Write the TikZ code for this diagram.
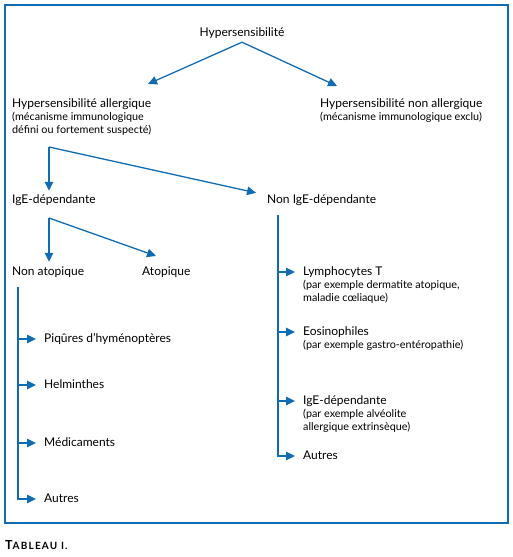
\documentclass[tikz,border=0pt]{standalone}
\usepackage{fontspec}
\setmainfont{Lato}
\usetikzlibrary{arrows.meta}
\definecolor{bleu}{RGB}{16,108,178}
\begin{document}
\begin{tikzpicture}[x=1pt, y=-1pt,
    fleche/.style={bleu, line width=1.3pt, -{Triangle[length=9pt,width=8.5pt]}},
    branche/.style={fleche, shorten >=8pt},
    titre/.style={inner sep=0pt, anchor=west, text height=9pt, text depth=3pt, font=\fontsize{12}{13}\selectfont},
    detail/.style={inner sep=0pt, anchor=north west, align=left, font=\fontsize{10.8}{13}\selectfont}]
    \useasboundingbox (0,0) rectangle (513,557);

    % Cadre et legende
    \draw[bleu, line width=1.5pt] (5,5) rectangle (508,523);
    \node[inner sep=0pt, anchor=base west, font=\bfseries\fontsize{12.5}{13}\selectfont\addfontfeature{LetterSpace=12}] (legende) at (5,549)
        {T\fontsize{10}{11}\selectfont ABLEAU I.};

    % Premier niveau
    \node[titre, anchor=center, inner ysep=3pt] (hyp) at (242,33) {Hypersensibilité};
    \node[titre] (allerg) at (12,104) {Hypersensibilité allergique};
    \node[detail] (allerg detail) at ([yshift=-2pt]allerg.south west)
        {(mécanisme immunologique\\défini ou fortement suspecté)};
    \node[titre] (nonallerg) at (320,104) {Hypersensibilité non allergique};
    \node[detail] (nonallerg detail) at ([yshift=-2pt]nonallerg.south west)
        {(mécanisme immunologique exclu)};

    \coordinate (bout allerg) at (148,84);
    \coordinate (bout nonallerg) at (337,86);
    \draw[fleche] (hyp.south) -- (bout allerg);
    \draw[fleche] (hyp.south) -- (bout nonallerg);

    % Allergique
    \node[titre] (ige) at (12,200) {IgE-dépendante};
    \node[titre] (nonige) at (267,200) {Non IgE-dépendante};
    \coordinate (fourche1) at (49,147);
    \draw[fleche] (fourche1) -- ([yshift=3pt]fourche1 |- ige.north);
    \draw[fleche] (fourche1) -- ([xshift=-11pt,yshift=1pt]nonige.north west);

    % IgE-dependante
    \node[titre] (natop) at (12,272) {Non atopique};
    \node[titre] (atop) at (142,272) {Atopique};
    \coordinate (fourche2) at (49,218);
    \coordinate (vers atop) at (156,256);
    \draw[fleche] (fourche2) -- ([yshift=4pt]fourche2 |- natop.north);
    \draw[fleche] (fourche2) -- (vers atop);

    % Non atopique
    \node[titre] (piqures) at (44,339) {Piqûres d’hyménoptères};
    \node[titre] (helm) at (44,385) {Helminthes};
    \node[titre] (medic) at (44,443) {Médicaments};
    \node[titre] (autres na) at (44,499) {Autres};
    \coordinate (tronc na) at (18,287);
    \foreach \item in {piqures,helm,medic,autres na}
        \draw[branche] (tronc na) |- (\item.west);

    % Non IgE-dependante
    \node[titre] (lympho) at (303,272) {Lymphocytes T};
    \node[detail] (lympho detail) at ([yshift=-2pt]lympho.south west)
        {(par exemple dermatite atopique,\\maladie cœliaque)};
    \node[titre] (eosino) at (303,332) {Eosinophiles};
    \node[detail] (eosino detail) at ([yshift=-2pt]eosino.south west)
        {(par exemple gastro-entéropathie)};
    \node[titre] (ige2) at (303,401) {IgE-dépendante};
    \node[detail] (ige2 detail) at ([yshift=-2pt]ige2.south west)
        {(par exemple alvéolite\\allergique extrinsèque)};
    \node[titre] (autres ni) at (303,456) {Autres};
    \coordinate (tronc ni) at (278,215);
    \foreach \item in {lympho,eosino,ige2,autres ni}
        \draw[branche] (tronc ni) |- (\item.west);
\end{tikzpicture}
\end{document}
